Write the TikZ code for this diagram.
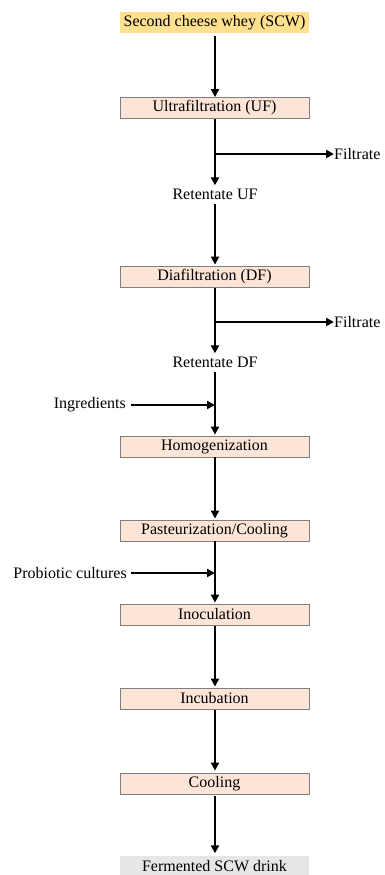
\documentclass[tikz,border=0pt]{standalone}
\usepackage{fontspec}
\setmainfont{Liberation Serif}
\usetikzlibrary{arrows.meta}
\definecolor{stepfill}{HTML}{FCE4D6}
\definecolor{stepline}{HTML}{7F7F7F}
\definecolor{startfill}{HTML}{FFE08F}
\definecolor{endfill}{HTML}{E7E6E6}
\begin{document}
\begin{tikzpicture}[x=1pt,y=-1pt,
  every node/.style={font=\fontsize{16}{18}\selectfont, inner sep=0pt},
  stepbox/.style={draw=stepline, line width=0.8pt, fill=stepfill, minimum width=189pt, minimum height=21pt},
  startbox/.style={fill=startfill, minimum width=189pt, minimum height=21pt},
  endbox/.style={fill=endfill, minimum width=189pt, minimum height=21pt},
  flow/.style={line width=2pt, -{Triangle[length=8pt,width=8pt]}}]
\useasboundingbox (0,0) rectangle (385,875);
\node[startbox] (scw) at (214.5,23) {Second cheese whey (SCW)};
\node[stepbox] (uf) at (214.5,108) {Ultrafiltration (UF)};
\node[minimum height=17pt] (ruf) at (215,194) {Retentate UF};
\node[stepbox] (df) at (214.5,276.5) {Diafiltration (DF)};
\node[minimum height=17pt] (rdf) at (215,362) {Retentate DF};
\node[stepbox] (hom) at (214.5,446.5) {Homogenization};
\node[stepbox] (past) at (214.5,530.5) {Pasteurization/Cooling};
\node[stepbox] (inoc) at (214.5,614.5) {Inoculation};
\node[stepbox] (incu) at (214.5,698.5) {Incubation};
\node[stepbox] (cool) at (214.5,783.5) {Cooling};
\node[endbox] (ferm) at (214.5,866) {Fermented SCW drink};
\node[anchor=west] (f1) at (334,154) {Filtrate};
\node[anchor=west] (f2) at (334,322) {Filtrate};
\node[anchor=east] (ing) at (126,405) {Ingredients};
\node[anchor=east] (pro) at (127,573) {Probiotic cultures};
\coordinate (b1) at (215,154);
\coordinate (b2) at (215,322);
\coordinate (j1) at (215,405);
\coordinate (j2) at (215,573);
\draw[flow, shorten <=2pt] (scw.south -| ruf.center) -- (uf.north -| ruf.center);
\draw[flow] (uf.south -| ruf.center) -- (ruf.north);
\draw[flow] (b1) -- (f1.west);
\draw[flow, shorten <=1pt, shorten >=1pt] (ruf.south) -- (df.north -| ruf.center);
\draw[flow, shorten <=1pt] (df.south -| ruf.center) -- (rdf.north);
\draw[flow] (b2) -- (f2.west);
\draw[flow, shorten <=1pt, shorten >=1pt] (rdf.south) -- (hom.north -| rdf.center);
\draw[flow, shorten <=5pt] (ing.east) -- (j1);
\draw[flow, shorten >=1pt] (hom.south -| rdf.center) -- (past.north -| rdf.center);
\draw[flow, shorten >=1pt] (past.south -| rdf.center) -- (inoc.north -| rdf.center);
\draw[flow, shorten <=4pt] (pro.east) -- (j2);
\draw[flow, shorten <=1pt, shorten >=1pt] (inoc.south -| rdf.center) -- (incu.north -| rdf.center);
\draw[flow, shorten <=1pt, shorten >=2pt] (incu.south -| rdf.center) -- (cool.north -| rdf.center);
\draw[flow, shorten <=2pt, shorten >=2pt] (cool.south -| rdf.center) -- (ferm.north -| rdf.center);
\end{tikzpicture}
\end{document}
